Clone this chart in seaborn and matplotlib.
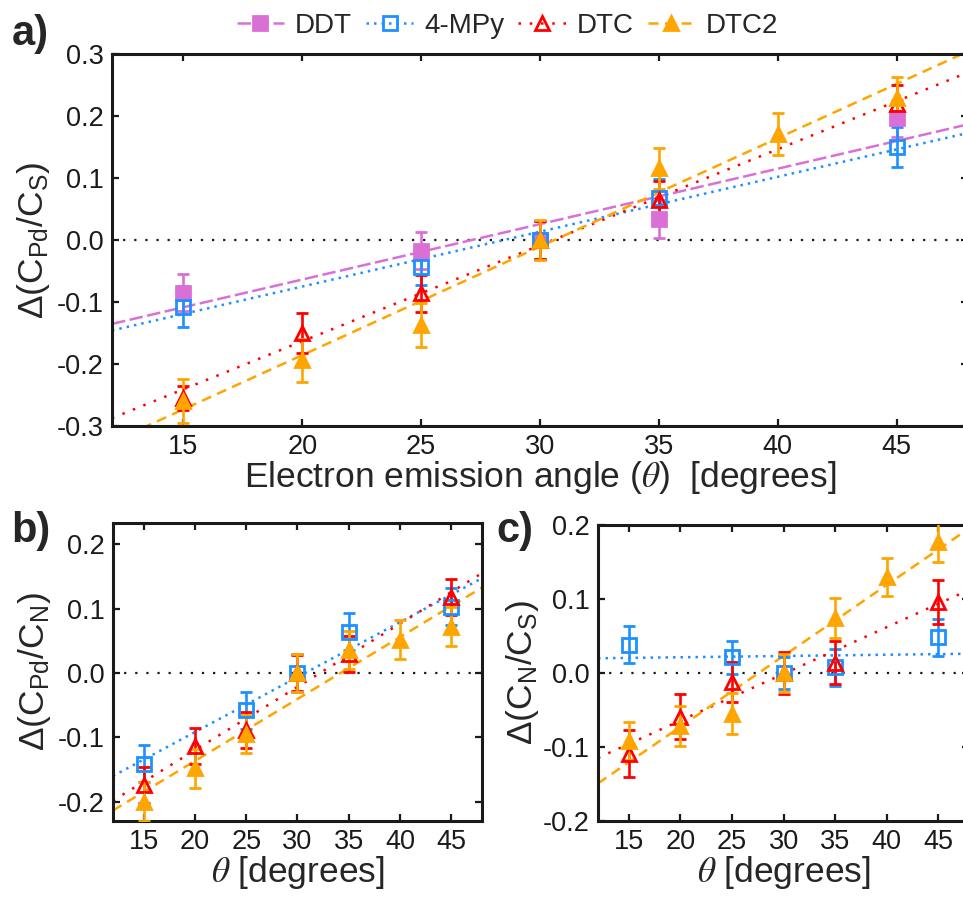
import numpy as np
import pandas as pd
import seaborn as sns
import matplotlib.pyplot as plt
from matplotlib.lines import Line2D
from matplotlib.ticker import FormatStrFormatter

# angles (degrees) per sample
ang_ddt = [15, 25, 30, 35, 45]
ang_mpy = [15, 25, 30, 35, 45]
ang_dtc = [15, 20, 25, 30, 35, 45]
ang_dtc2 = [15, 20, 25, 30, 35, 40, 45]

# panel a: d(C_Pd/C_S)
a_ddt = [-0.085, -0.017, 0.0, 0.034, 0.196]
a_ddt_err = [0.03, 0.03, 0.03, 0.03, 0.03]
a_mpy = [-0.108, -0.043, 0.0, 0.068, 0.150]
a_mpy_err = [0.033, 0.03, 0.03, 0.03, 0.033]
a_dtc = [-0.255, -0.150, -0.086, 0.0, 0.065, 0.220]
a_dtc_err = [0.02, 0.033, 0.03, 0.03, 0.03, 0.03]
a_dtc2 = [-0.260, -0.194, -0.137, 0.0, 0.116, 0.171, 0.229]
a_dtc2_err = [0.035, 0.035, 0.035, 0.033, 0.033, 0.034, 0.034]

# panel b: d(C_Pd/C_N)
b_mpy = [-0.141, -0.058, 0.0, 0.064, 0.103]
b_mpy_err = [0.029, 0.029, 0.029, 0.029, 0.029]
b_dtc = [-0.174, -0.114, -0.088, 0.0, 0.030, 0.118]
b_dtc_err = [0.028, 0.028, 0.028, 0.028, 0.028, 0.028]
b_dtc2 = [-0.200, -0.148, -0.095, 0.0, 0.036, 0.052, 0.072]
b_dtc2_err = [0.03, 0.03, 0.03, 0.03, 0.03, 0.03, 0.03]

# panel c: d(C_N/C_S)
c_mpy = [0.038, 0.021, 0.0, 0.008, 0.048]
c_mpy_err = [0.025, 0.022, 0.022, 0.025, 0.025]
c_dtc = [-0.109, -0.059, -0.012, 0.0, 0.014, 0.096]
c_dtc_err = [0.032, 0.03, 0.027, 0.028, 0.029, 0.03]
c_dtc2 = [-0.092, -0.072, -0.055, 0.0, 0.074, 0.130, 0.177]
c_dtc2_err = [0.026, 0.027, 0.028, 0.026, 0.027, 0.026, 0.027]

styles = {
    'DDT': dict(color='#DA70D6', marker='s', mfc='#DA70D6', ls=(0, (5.4, 1.8))),
    '4-MPy': dict(color='#1E90FF', marker='s', mfc='none', ls=(0, (1, 2))),
    'DTC': dict(color='#FF0000', marker='^', mfc='none', ls=(0, (1, 3.5))),
    'DTC2': dict(color='#FFA500', marker='^', mfc='#FFA500', ls=(0, (4, 2.6))),
}

sns.set_theme(style='ticks')
plt.rcParams['font.family'] = ['Liberation Sans', 'DejaVu Sans']
plt.rcParams['mathtext.fontset'] = 'stix'
plt.rcParams['axes.unicode_minus'] = False

TICK_FS = 19.5
LABEL_FS = 25.5


def draw(ax, series, ylim, yticks):
    ax.set_xlim(12, 48)
    ax.set_ylim(*ylim)
    ax.axhline(0, color='k', ls=(0, (1, 4)), lw=1.6, zorder=1)
    for name, x, y, err in series:
        st = styles[name]
        df = pd.DataFrame({'angle': x, 'val': y})
        # linear fit through the points, stretched over the whole x range
        sns.regplot(data=df, x='angle', y='val', ax=ax, scatter=False, ci=None,
                    truncate=False, color=st['color'],
                    line_kws=dict(ls=st['ls'], lw=1.8, zorder=2))
        ax.errorbar(x, y, yerr=err, fmt=st['marker'], color=st['color'],
                    mfc=st['mfc'], mec=st['color'], ms=10, mew=2.0,
                    elinewidth=1.9, capsize=4.5, capthick=1.9, zorder=3)
    ax.set_xlim(12, 48)
    ax.set_ylim(*ylim)
    ax.set_xticks([15, 20, 25, 30, 35, 40, 45])
    ax.set_yticks(yticks)
    ax.yaxis.set_major_formatter(FormatStrFormatter('%.1f'))
    ax.tick_params(direction='in', top=True, right=True, length=5, width=1.6,
                   labelsize=TICK_FS, pad=6, colors='k')
    for sp in ax.spines.values():
        sp.set_linewidth(2.2)
        sp.set_color('k')


fig = plt.figure(figsize=(9.63, 8.97), dpi=100)

ax_a = fig.add_axes([0.1163, 0.5251, 0.8889, 0.4147])
draw(ax_a, [('DDT', ang_ddt, a_ddt, a_ddt_err),
            ('4-MPy', ang_mpy, a_mpy, a_mpy_err),
            ('DTC', ang_dtc, a_dtc, a_dtc_err),
            ('DTC2', ang_dtc2, a_dtc2, a_dtc2_err)],
     (-0.3, 0.3), [-0.3, -0.2, -0.1, 0.0, 0.1, 0.2, 0.3])
ax_a.set_xlabel(r'Electron emission angle ($\theta$)  [degrees]', fontsize=LABEL_FS, labelpad=-1)
ax_a.set_ylabel(r'Δ(C$\mathregular{_{Pd}}$/C$\mathregular{_S}$)', fontsize=LABEL_FS, labelpad=3)

ax_b = fig.add_axes([0.1173, 0.0847, 0.3832, 0.3322])
draw(ax_b, [('4-MPy', ang_mpy, b_mpy, b_mpy_err),
            ('DTC', ang_dtc, b_dtc, b_dtc_err),
            ('DTC2', ang_dtc2, b_dtc2, b_dtc2_err)],
     (-0.23, 0.233), [-0.2, -0.1, 0.0, 0.1, 0.2])
ax_b.set_xlabel(r'$\theta$ [degrees]', fontsize=LABEL_FS, labelpad=-1)
ax_b.set_ylabel(r'Δ(C$\mathregular{_{Pd}}$/C$\mathregular{_N}$)', fontsize=LABEL_FS, labelpad=3)

ax_c = fig.add_axes([0.621, 0.0847, 0.3853, 0.33])
draw(ax_c, [('4-MPy', ang_mpy, c_mpy, c_mpy_err),
            ('DTC', ang_dtc, c_dtc, c_dtc_err),
            ('DTC2', ang_dtc2, c_dtc2, c_dtc2_err)],
     (-0.2, 0.2), [-0.2, -0.1, 0.0, 0.1, 0.2])
ax_c.set_xlabel(r'$\theta$ [degrees]', fontsize=LABEL_FS, labelpad=-1)
ax_c.set_ylabel(r'Δ(C$\mathregular{_N}$/C$\mathregular{_S}$)', fontsize=LABEL_FS, labelpad=1)

# panel letters
fig.text(0.012, 0.962, 'a)', fontsize=30, fontweight='bold', ha='left', va='center')
fig.text(0.012, 0.408, 'b)', fontsize=30, fontweight='bold', ha='left', va='center')
fig.text(0.515, 0.408, 'c)', fontsize=30, fontweight='bold', ha='left', va='center')

# legend
handles = [Line2D([], [], color=styles[n]['color'], ls=styles[n]['ls'], lw=1.8,
                  marker=styles[n]['marker'], mfc=styles[n]['mfc'],
                  mec=styles[n]['color'], ms=10, mew=2.0)
           for n in styles]
fig.legend(handles, list(styles), loc='center', bbox_to_anchor=(0.527, 0.971),
           ncol=4, frameon=False, fontsize=20, handlelength=1.7,
           handletextpad=0.4, columnspacing=0.5)

fig.savefig('out.png', dpi=100)
